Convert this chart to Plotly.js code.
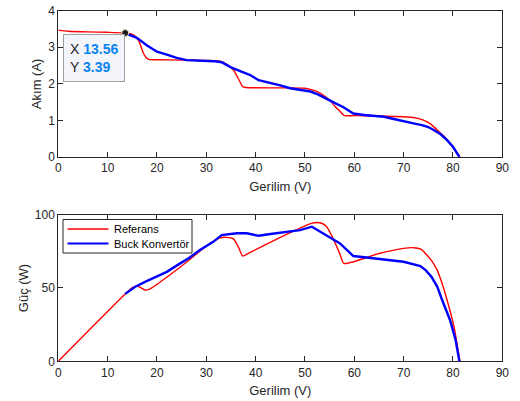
<!DOCTYPE html>
<html>
<head>
<meta charset="utf-8">
<script src="https://cdn.plot.ly/plotly-3.0.1.min.js"></script>
<style>html,body{margin:0;padding:0;background:#fff;}#chart{width:520px;height:401px;}</style>
</head>
<body>
<div id="chart"></div>
<script>
// Reference (red) current curve
var refV_I = [0, 2, 6, 10, 13.5, 15, 15.9, 16.6, 17.2, 17.8, 18.3, 20, 25, 30, 32.8, 34, 35.5, 36.5, 37.4, 38, 45, 50, 51.1, 52.5, 54.1, 55.2, 56.1, 57.1, 57.9, 60, 65, 70, 72, 74, 75.5, 76.8, 78.2, 79.4, 80.5, 81.4];
var refI   = [3.47, 3.44, 3.42, 3.41, 3.39, 3.35, 3.26, 3.08, 2.85, 2.72, 2.67, 2.66, 2.65, 2.64, 2.62, 2.55, 2.38, 2.14, 1.92, 1.90, 1.89, 1.88, 1.85, 1.79, 1.65, 1.53, 1.38, 1.25, 1.14, 1.13, 1.12, 1.10, 1.08, 1.01, 0.90, 0.74, 0.57, 0.37, 0.18, 0.0];
// Buck converter (blue) current curve
var buckV_I = [13.56, 15.9, 18, 20, 22, 24, 26, 28, 30, 31.5, 33.1, 35, 37, 38.9, 40.6, 43, 45, 47, 49, 51.1, 52.5, 54.4, 56, 57.8, 59.8, 62, 64, 66, 68, 70, 72, 73.7, 75, 76.1, 77.5, 78.8, 80, 81.3];
var buckI   = [3.39, 3.26, 3.05, 2.88, 2.80, 2.71, 2.65, 2.64, 2.63, 2.62, 2.59, 2.45, 2.34, 2.24, 2.10, 2.03, 1.96, 1.88, 1.83, 1.79, 1.72, 1.60, 1.48, 1.36, 1.19, 1.15, 1.12, 1.10, 1.04, 0.97, 0.92, 0.87, 0.82, 0.74, 0.62, 0.46, 0.28, 0.0];
// Reference (red) power curve
var refV_P = [0, 13.5, 15.0, 15.9, 16.6, 17.6, 18.5, 25, 30, 32.8, 34.0, 35.5, 36.5, 37.4, 38.9, 45, 50, 51.5, 52.4, 53.5, 54.4, 55.3, 56.2, 57.1, 57.9, 65, 70, 72, 73.5, 74.7, 75.8, 76.8, 77.8, 78.8, 80.2, 81.4];
var refP   = [0, 45.7, 50.2, 51.3, 50.5, 48.6, 49.2, 65.0, 78.5, 84.3, 84.5, 83.5, 78, 71.8, 74.3, 84.5, 92.4, 94.2, 94.7, 94.0, 91.8, 86.5, 80, 73, 66.8, 73.5, 77.0, 77.5, 76.5, 72.5, 68, 62.2, 53, 41.8, 23.6, 0];
// Buck converter (blue) power curve
var buckV_P = [13.56, 15.6, 17.9, 20, 22, 24.7, 26.5, 28.7, 31.4, 33.1, 34.5, 36.2, 38.2, 39.5, 40.6, 43, 45, 47, 49, 51.4, 53.1, 55, 57.1, 59.8, 62.6, 66, 70, 73.4, 74.5, 75.7, 76.8, 77.8, 79.4, 80.5, 81.3];
var buckP   = [46.0, 50.9, 54.7, 57.7, 61, 66.8, 70.5, 75.9, 81.5, 86.1, 86.8, 87.3, 87.3, 86.5, 85.6, 86.8, 87.6, 88.3, 89.5, 91.8, 88.3, 84.8, 80.4, 71.8, 70.6, 69.5, 67.9, 65.0, 62, 57.3, 51, 41.8, 28.2, 15, 0];
// Data tip
var tipV = [13.56];
var tipI = [3.39];
var seriesNames = ['Referans', 'Buck Konvertör'];

var txt = '#262626';
var FONT = 'Liberation Sans, Arial, sans-serif';
var axisBase = {
  showline: true, linecolor: txt, linewidth: 1, mirror: 'ticks',
  ticks: 'inside', ticklen: 5, tickcolor: txt, tickwidth: 1,
  showgrid: false, zeroline: false,
  tickfont: {family: FONT, size: 12, color: txt},
  automargin: false
};
function ax(extra) { return Object.assign({}, axisBase, extra); }

var RED = '#ff0000', BLUE = '#0000ff';
var traces = [
  {x: refV_I, y: refI, xaxis: 'x', yaxis: 'y', mode: 'lines', line: {color: RED, width: 1.4, shape: 'spline', smoothing: 0.6}, hoverinfo: 'skip'},
  {x: buckV_I, y: buckI, xaxis: 'x', yaxis: 'y', mode: 'lines', line: {color: BLUE, width: 2.4}, hoverinfo: 'skip'},
  {x: tipV, y: tipI, xaxis: 'x', yaxis: 'y', mode: 'markers', marker: {color: '#1a1a1a', size: 7, line: {color: '#e8e0b0', width: 1}}, hoverinfo: 'skip'},
  {x: refV_P, y: refP, xaxis: 'x2', yaxis: 'y2', mode: 'lines', name: seriesNames[0], line: {color: RED, width: 1.4, shape: 'spline', smoothing: 0.6}, hoverinfo: 'skip'},
  {x: buckV_P, y: buckP, xaxis: 'x2', yaxis: 'y2', mode: 'lines', name: seriesNames[1], line: {color: BLUE, width: 2.4}, hoverinfo: 'skip'}
];

var titleFont = {family: FONT, size: 13, color: txt};
function px(x) { return x / 520; }
function py(y) { return 1 - y / 401; }

var layout = {
  width: 520, height: 401,
  margin: {l: 0, r: 0, t: 0, b: 0},
  paper_bgcolor: '#ffffff', plot_bgcolor: '#ffffff',
  showlegend: false,
  xaxis: ax({domain: [0.1121, 0.9660], range: [0, 90], dtick: 10, tick0: 0, anchor: 'y',
    title: {text: 'Gerilim (V)', font: titleFont, standoff: 7}}),
  yaxis: ax({domain: [0.6085, 0.9733], range: [0, 4], dtick: 1, tick0: 0, anchor: 'x',
    title: {text: 'Akım (A)', font: titleFont, standoff: 3}}),
  xaxis2: ax({domain: [0.1121, 0.9660], range: [0, 90], dtick: 10, tick0: 0, anchor: 'y2',
    title: {text: 'Gerilim (V)', font: titleFont, standoff: 7}}),
  yaxis2: ax({domain: [0.0990, 0.4646], range: [0, 100], dtick: 50, tick0: 0, anchor: 'x2',
    title: {text: 'Güç (W)', font: titleFont, standoff: 3}}),
  shapes: [
    {type: 'rect', xref: 'paper', yref: 'paper', x0: px(63), x1: px(192), y0: py(253), y1: py(219.5),
      line: {color: txt, width: 1}, fillcolor: '#ffffff', layer: 'above'},
    {type: 'line', xref: 'paper', yref: 'paper', x0: px(67.5), x1: px(108.5), y0: py(229), y1: py(229),
      line: {color: RED, width: 1.5}, layer: 'above'},
    {type: 'line', xref: 'paper', yref: 'paper', x0: px(67.5), x1: px(108.5), y0: py(243.5), y1: py(243.5),
      line: {color: BLUE, width: 2}, layer: 'above'}
  ],
  annotations: [
    {xref: 'paper', yref: 'paper', x: px(111.5), y: py(229), xanchor: 'left', yanchor: 'middle',
      text: seriesNames[0], showarrow: false, font: {family: FONT, size: 11, color: '#000'}},
    {xref: 'paper', yref: 'paper', x: px(111.5), y: py(243.5), xanchor: 'left', yanchor: 'middle',
      text: seriesNames[1], showarrow: false, font: {family: FONT, size: 11, color: '#000'}},
    {
    xref: 'x', yref: 'y', x: 0.95, y: 3.37, xanchor: 'left', yanchor: 'top',
    text: 'X <span style="color:#0a84f0"><b>' + tipV[0].toFixed(2) + '</b></span><br>Y <span style="color:#0a84f0"><b>' + tipI[0].toFixed(2) + '</b></span>',
    showarrow: false, align: 'left', bgcolor: '#f4f4fb', bordercolor: '#a0a0a0', borderwidth: 1, borderpad: 6,
    font: {family: FONT, size: 14, color: '#262626'}
  }]
};

Plotly.newPlot('chart', traces, layout, {staticPlot: true, displayModeBar: false});
</script>
</body>
</html>
